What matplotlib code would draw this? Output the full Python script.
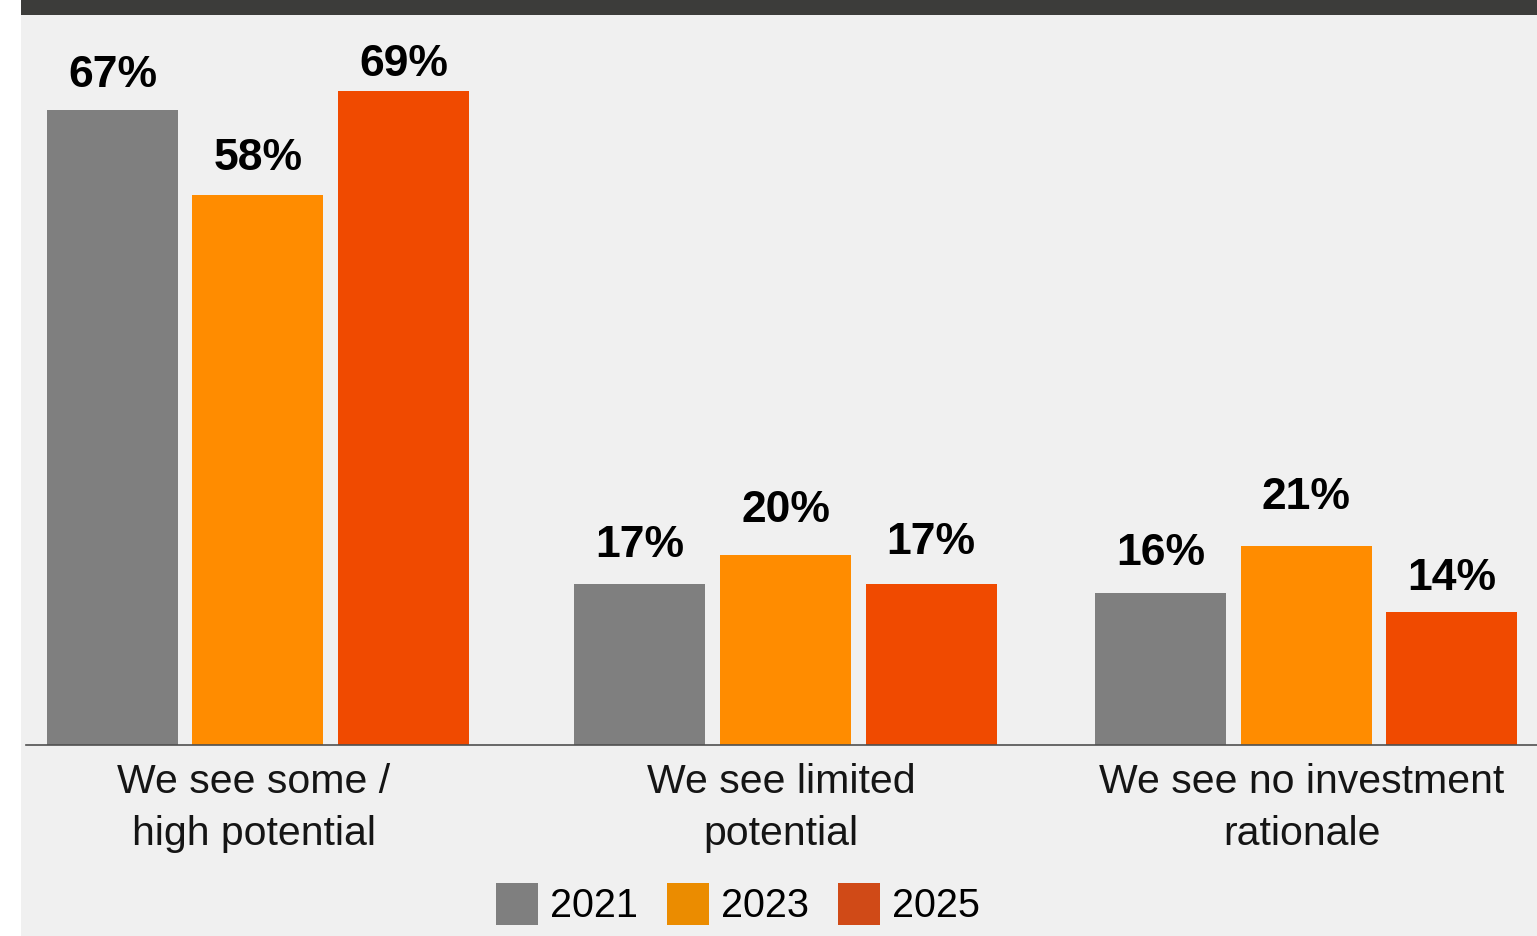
import matplotlib
matplotlib.use("Agg")
import matplotlib.pyplot as plt
from matplotlib.patches import Rectangle, Patch
import numpy as np

# ---- data ----
categories = ["We see some /\nhigh potential",
              "We see limited\npotential",
              "We see no investment\nrationale"]
years = ["2021", "2023", "2025"]
values_2021 = [67, 17, 16]
values_2023 = [58, 20, 21]
values_2025 = [69, 17, 14]

# ---- styles ----
bar_colors = ["#7f7f7f", "#ff8c00", "#f04a00"]
legend_colors = ["#7f7f7f", "#eb8c00", "#d04a17"]
label_gap_px = [[23, 27, 28], [25, 33, 37], [15, 30, 22]]  # per series, per group
group_pos = np.array([0.0, 1.0067, 2.0])                  # group centres on the x axis

plt.rcParams["font.family"] = ["Liberation Sans", "DejaVu Sans"]

W, H, DPI = 1537, 936, 100
fig = plt.figure(figsize=(W / DPI, H / DPI), dpi=DPI, facecolor="white")

# panel background and header band
fig.patches.append(Rectangle((21 / W, 0), 1 - 21 / W, 1, transform=fig.transFigure,
                             facecolor="#f0f0f0", edgecolor="none", zorder=-2))
fig.patches.append(Rectangle((21 / W, 1 - 15 / H), 1 - 21 / W, 15 / H, transform=fig.transFigure,
                             facecolor="#3c3c3a", edgecolor="none", zorder=-1))

ax = fig.add_axes([26 / W, 1 - 745 / H, 1 - 26 / W, 730 / H])
ax.set_zorder(2)
ax.set_facecolor("none")

series = [values_2021, values_2023, values_2025]
pitch = 0.2777
width = 0.25
for i, (vals, col) in enumerate(zip(series, bar_colors)):
    xs = group_pos + (i - 1) * pitch
    ax.bar(xs, vals, width=width, color=col, edgecolor="none", zorder=2)
    for j, (bx, v) in enumerate(zip(xs, vals)):
        ax.annotate(f"{v}%", xy=(bx, v), xytext=(0, label_gap_px[i][j] * 0.72),
                    textcoords="offset points", ha="center", va="baseline",
                    fontsize=32, fontweight="bold", color="black")

ax.set_xlim(-0.4427, 2.4408)
ax.set_ylim(0, 730 / 9.48)

for s in ["top", "right", "left"]:
    ax.spines[s].set_visible(False)
ax.spines["bottom"].set_color("#505050")
ax.spines["bottom"].set_linewidth(1.2)
ax.spines["bottom"].set_zorder(3)
ax.set_yticks([])
ax.set_xticks(group_pos - 0.008)
ax.set_xticklabels(categories, fontsize=29.5, color="#151515", linespacing=1.47)
ax.tick_params(axis="x", length=0, pad=13)

handles = [Patch(facecolor=c, edgecolor="none") for c in legend_colors]
fig.legend(handles, years, loc="center", bbox_to_anchor=(738 / W, 1 - 904 / H),
           ncol=3, frameon=False, fontsize=28.5, handlelength=1.06, handleheight=1.29,
           handletextpad=0.3, columnspacing=0.73, borderpad=0, borderaxespad=0)

fig.savefig("out.png", dpi=DPI, facecolor=fig.get_facecolor())
